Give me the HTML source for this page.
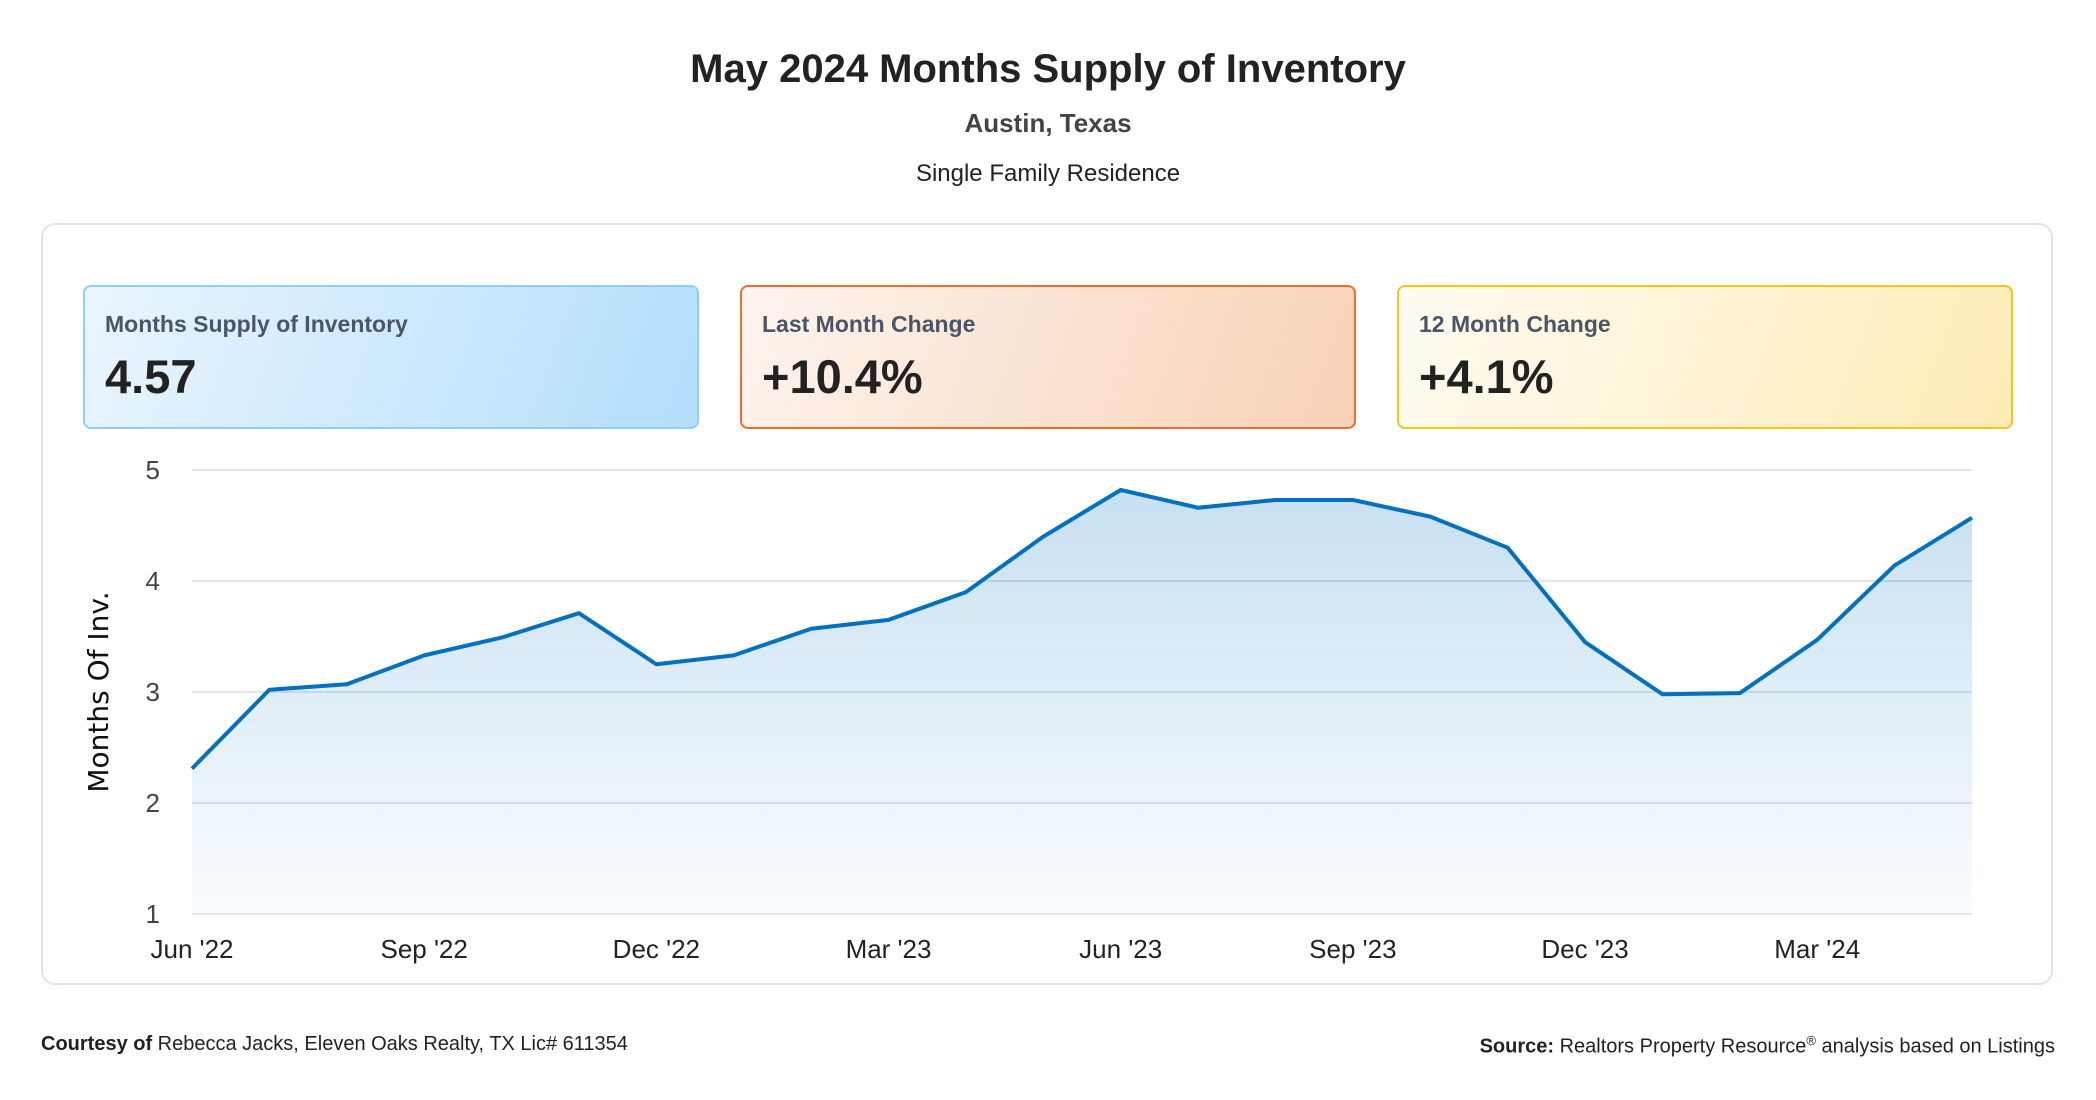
<!DOCTYPE html>
<html><head><meta charset="utf-8"><style>
body{margin:0;width:2096px;height:1100px;background:#fff;font-family:"Liberation Sans",sans-serif;position:relative;overflow:hidden}
.abs{position:absolute}
.title{left:0;width:2096px;text-align:center;top:47px;font-size:40px;font-weight:bold;color:#222}
.sub{left:0;width:2096px;text-align:center;top:108px;font-size:26px;font-weight:bold;color:#444}
.sub2{left:0;width:2096px;text-align:center;top:160px;font-size:24px;color:#222}
.card{left:41px;top:223px;width:2012px;height:762px;border:2px solid #dde3ea;border-radius:14px;box-sizing:border-box}
.kpi{top:285px;height:144px;width:616px;border-radius:8px;border:2px solid;box-sizing:border-box}
.kpi .l{position:absolute;left:20px;top:24px;font-size:23px;font-weight:bold;color:#4a5568}
.kpi .v{position:absolute;left:20px;top:62px;font-size:47px;font-weight:bold;color:#222}
.foot{top:1033px;font-size:20px;color:#222}
</style></head><body>
<div class="abs title">May 2024 Months Supply of Inventory</div>
<div class="abs sub">Austin, Texas</div>
<div class="abs sub2">Single Family Residence</div>
<div class="abs card"></div>
<div class="abs kpi" style="left:83px;background:linear-gradient(110deg,#eaf5fe,#b3defc);border-color:#90cdf8"><div class="l">Months Supply of Inventory</div><div class="v">4.57</div></div>
<div class="abs kpi" style="left:740px;background:linear-gradient(110deg,#fdf4ee,#f7d2b6);border-color:#e8702a"><div class="l">Last Month Change</div><div class="v">+10.4%</div></div>
<div class="abs kpi" style="left:1397px;background:linear-gradient(110deg,#fffbf2,#feecb6);border-color:#f5c518"><div class="l">12 Month Change</div><div class="v">+4.1%</div></div>
<svg class="abs" style="left:0;top:0" width="2096" height="1100" id="chart">
<defs><linearGradient id="fill" x1="0" y1="0" x2="0" y2="1"><stop offset="0" stop-color="#0070c0" stop-opacity="0.22"/><stop offset="1" stop-color="#0070c0" stop-opacity="0.02"/></linearGradient></defs>
</svg>
<div class="abs foot" style="left:41px"><b>Courtesy of</b> Rebecca Jacks, Eleven Oaks Realty, TX Lic# 611354</div>
<div class="abs foot" style="right:41px"><b>Source:</b> Realtors Property Resource<sup style="font-size:13px">®</sup> analysis based on Listings</div>
<script>
const months = ["Jun '22","Jul '22","Aug '22","Sep '22","Oct '22","Nov '22","Dec '22","Jan '23","Feb '23","Mar '23","Apr '23","May '23","Jun '23","Jul '23","Aug '23","Sep '23","Oct '23","Nov '23","Dec '23","Jan '24","Feb '24","Mar '24","Apr '24","May '24"];
const values = [2.31,3.02,3.07,3.33,3.49,3.71,3.25,3.33,3.57,3.65,3.90,4.40,4.82,4.66,4.73,4.73,4.58,4.30,3.45,2.98,2.99,3.47,4.14,4.57];
const yTicks = [1,2,3,4,5];
const xTickIdx = [0,3,6,9,12,15,18,21];
const NS="http://www.w3.org/2000/svg";
const svg=document.getElementById('chart');
const X0=192,X1=1972,Y0=914,Y1=470,yMin=1,yMax=5;
const xs=i=>X0+(X1-X0)*i/(months.length-1);
const ys=v=>Y0-(v-yMin)/(yMax-yMin)*(Y0-Y1);
function mk(t,a){const e=document.createElementNS(NS,t);for(const k in a)e.setAttribute(k,a[k]);svg.appendChild(e);return e;}
yTicks.forEach(v=>{
  const g=mk('line',{x1:X0,x2:X1,y1:ys(v),y2:ys(v),stroke:'#e2e6ea','stroke-width':2});
  
  
  const t=mk('text',{x:160,y:ys(v)+9,'text-anchor':'end','font-size':26,fill:'#444','font-family':'Liberation Sans'});
  t.textContent=v;
  
  
});
xTickIdx.forEach(i=>{
  const t=mk('text',{x:xs(i),y:958,'text-anchor':'middle','font-size':26,fill:'#222','font-family':'Liberation Sans'});
  t.textContent=months[i];
  
  
});
const pts=values.map((v,i)=>xs(i)+','+ys(v)).join(' ');
const area=mk('polygon',{points:X0+','+Y0+' '+pts+' '+X1+','+Y0,fill:'url(#fill)'});


const line=mk('polyline',{points:pts,fill:'none',stroke:'#0070c0','stroke-width':4,'stroke-linejoin':'round'});


const yt=mk('text',{x:0,y:0,transform:'translate(108,692) rotate(-90)','text-anchor':'middle','font-size':28,fill:'#111','font-family':'DejaVu Sans'});
yt.textContent='Months Of Inv.';


</script>
</body></html>
